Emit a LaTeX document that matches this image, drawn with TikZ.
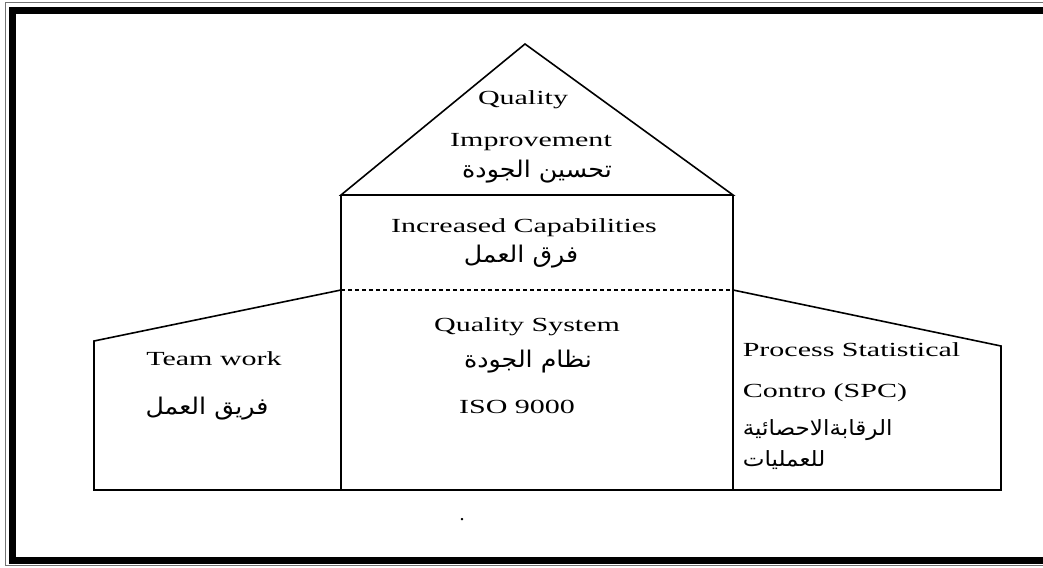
\documentclass[tikz,border=0pt]{standalone}
\usepackage{fontspec}
\usepackage{graphicx}
\setmainfont{Liberation Serif}
\newfontfamily\arabicfont[Script=Arabic]{DejaVu Sans}
\TeXXeTstate=1
% latin text is set wide
\newcommand{\wideen}[1]{\scalebox{1.5}[1]{#1}}
\newcommand{\artext}[1]{\scalebox{1.1}[1]{\beginR #1\endR}}

\begin{document}
\begin{tikzpicture}
  [x=1pt,y=-1pt,line width=1.6pt,
   entxt/.style={font=\fontsize{20}{24}\selectfont, inner sep=0pt},
   artxt/.style={font=\arabicfont\fontsize{23}{26}\selectfont, inner sep=0pt},
   artxtsm/.style={font=\arabicfont\fontsize{21}{24}\selectfont, inner sep=0pt}]
  \useasboundingbox (0,0) rectangle (1043,567);
  \clip (0,0) rectangle (1043,567);

  % frame
  \draw[line width=1pt, black!55] (5,3) rectangle (1060,565.5);
  \draw[line width=7.5pt] (12.5,10.7) rectangle (1070,560.3);

  % house outline
  \coordinate (apex) at (525,44);
  \coordinate (roofL) at (341,195);
  \coordinate (roofR) at (733,195);
  \coordinate (beamL) at (341,290);
  \coordinate (beamR) at (733,290);
  \coordinate (wingL) at (94,341);
  \coordinate (wingR) at (1001,346);
  \coordinate (baseL) at (94,490);
  \coordinate (baseR) at (1001,490);
  \coordinate (footL) at (341,490);
  \coordinate (footR) at (733,490);

  \draw (roofL) -- (apex) -- (roofR) -- cycle;
  \draw (roofL) -- (footL);
  \draw (roofR) -- (footR);
  \draw[line width=1.1pt, dash pattern=on 4pt off 3pt] (beamL) -- (beamR);
  \draw (beamL) -- (wingL) -- (baseL) -- (baseR) -- (wingR) -- (beamR);

  % roof
  \node[entxt] (qual) at (523,100) {\wideen{Quality}};
  \node[entxt] (impr) at (531,142) {\wideen{Improvement}};
  \node[artxt] (imprar) at (537,172) {\artext{تحسين الجودة}};
  % upper storey
  \node[entxt] (capa) at (524,228) {\wideen{Increased Capabilities}};
  \node[artxt] (capaar) at (521,257) {\artext{فرق العمل}};
  % ground floor
  \node[entxt] (qsys) at (527,327) {\wideen{Quality System}};
  \node[artxt] (qsysar) at (528,362) {\artext{نظام الجودة}};
  \node[entxt] (iso) at (517,407) {\wideen{ISO 9000}};
  % wings
  \node[entxt] (team) at (214,359) {\wideen{Team work}};
  \node[artxt] (teamar) at (207,409) {\artext{فريق العمل}};
  \node[entxt, anchor=west] (spca) at (742,350) {\wideen{Process Statistical}};
  \node[entxt, anchor=west] (spcb) at (742,393) {\wideen{Contro (SPC)}};
  \node[artxtsm, anchor=west] (spcara) at (742,430) {\artext{الرقابةالاحصائية}};
  \node[artxtsm, anchor=west] (spcarb) at (742,460) {\artext{للعمليات}};

  \node[entxt] (dot) at (462,520) {.};
\end{tikzpicture}
\end{document}
